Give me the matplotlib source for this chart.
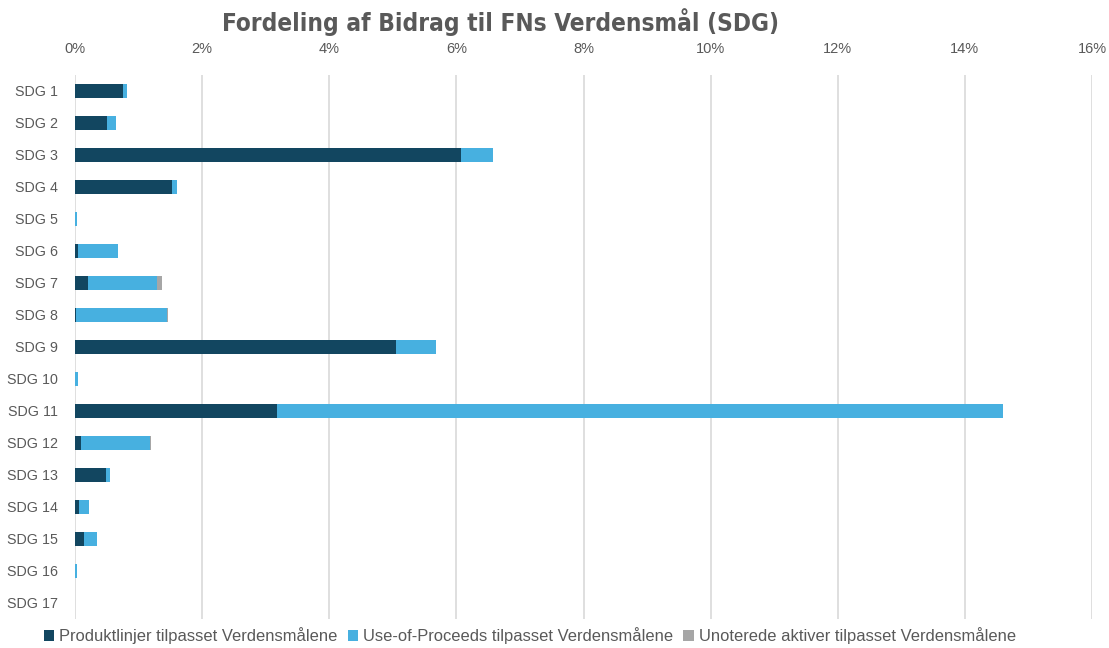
import matplotlib.pyplot as plt
import numpy as np

# data (% of portfolio)
sdg = ["SDG %d" % i for i in range(1, 18)]
produktlinjer = [0.755, 0.50, 6.07, 1.53, 0.0, 0.05, 0.20, 0.02, 5.05, 0.0, 3.18, 0.09, 0.49, 0.07, 0.14, 0.0, 0.0]
use_of_proceeds = [0.06, 0.14, 0.50, 0.08, 0.03, 0.63, 1.09, 1.43, 0.63, 0.04, 11.42, 1.09, 0.06, 0.15, 0.21, 0.025, 0.0]
unoterede = [0.0, 0.01, 0.01, 0.0, 0.0, 0.0, 0.08, 0.01, 0.0, 0.0, 0.0, 0.01, 0.0, 0.0, 0.0, 0.0, 0.0]
ticks = [0, 2, 4, 6, 8, 10, 12, 14, 16]

labels = ["Produktlinjer tilpasset Verdensmålene",
          "Use-of-Proceeds tilpasset Verdensmålene",
          "Unoterede aktiver tilpasset Verdensmålene"]
colors = ["#124660", "#47B0E0", "#A6A6A6"]
txt = "#595959"

plt.rcParams['font.family'] = ['Liberation Sans', 'DejaVu Sans']

fig = plt.figure(figsize=(11.09, 6.48), dpi=100)
ax = fig.add_axes([75 / 1109, 1 - 619 / 648, (1092 - 75) / 1109, (619 - 75) / 648])

y = np.arange(len(sdg))
left = np.zeros(len(sdg))
for vals, lab, c in zip([produktlinjer, use_of_proceeds, unoterede], labels, colors):
    ax.barh(y, vals, left=left, height=0.41, color=c, label=lab, zorder=3)
    left += np.array(vals)

ax.set_xlim(0, 16)
ax.set_ylim(len(sdg) - 0.5, -0.5)
ax.set_yticks(y)
ax.set_yticklabels(sdg)
ax.set_xticks(ticks)
ax.set_xticklabels(["%d%%" % t for t in ticks])
ax.xaxis.tick_top()
ax.tick_params(axis="x", length=0, pad=14, labelsize=10.5, colors=txt)
ax.tick_params(axis="y", length=0, pad=12, labelsize=10.3, colors=txt)
ax.grid(axis="x", color="#D9D9D9", linewidth=1.2, zorder=0)
for s in ax.spines.values():
    s.set_visible(False)

fig.text(501 / 1109, 1 - 22 / 648, "Fordeling af Bidrag til FNs Verdensmål (SDG)",
         ha="center", va="center", fontsize=17.5, fontweight="bold", color=txt,
         family="DejaVu Sans", fontstretch="condensed")

fig.legend(loc="center", bbox_to_anchor=(530 / 1109, 1 - 636 / 648), ncol=3, frameon=False,
           fontsize=11.9, labelcolor=txt, handlelength=0.65, handleheight=0.65,
           handletextpad=0.3, columnspacing=0.6, borderaxespad=0)

fig.savefig("out.png", dpi=100)
